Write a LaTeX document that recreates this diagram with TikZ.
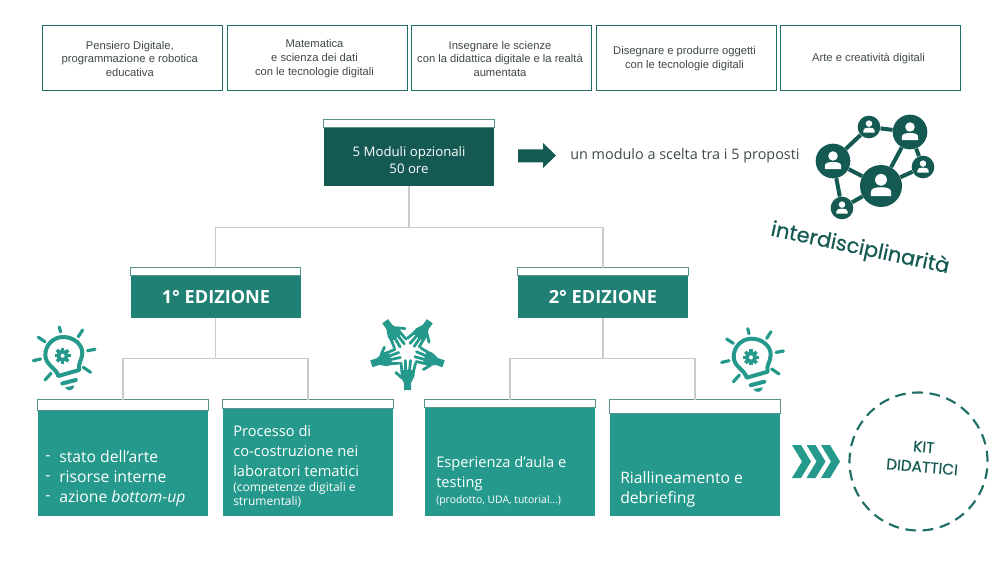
\documentclass[tikz,border=0pt]{standalone}
\usepackage{fontspec}
\setmainfont{Open Sans}
\newfontfamily\arialf{Liberation Sans}
\newfontfamily\handf[FakeBold=0.5]{Poppins}
\usetikzlibrary{calc}
\definecolor{dk}{HTML}{155A52}
\definecolor{md}{HTML}{1F8073}
\definecolor{lt}{HTML}{259A8C}
\definecolor{edge}{HTML}{C9CBCA}
\definecolor{tline}{HTML}{1F6F66}
\definecolor{gtxt}{HTML}{3F4A48}
\tikzset{
  topbox/.style={draw=tline,line width=.75pt,fill=white,minimum width=135pt,minimum height=48.75pt,inner sep=0pt},
  toplabel/.style={inner sep=0pt,font=\arialf\fontsize{8.4}{10.2}\selectfont,text=gtxt,align=center},
  headbox/.style={rectangle,minimum width=127.5pt,inner sep=0pt,fill=#1,draw=none},
  striped/.style={fill=white,draw=tline!75,line width=.6pt},
  link/.style={draw=edge,line width=1.1pt},
  bodytxt/.style={text=white,anchor=west,align=left,inner sep=0pt,font=\fontsize{11}{15}\selectfont},
  bigbody/.style={bodytxt,font=\fontsize{11.8}{15}\selectfont},
  smalltxt/.style={bodytxt,font=\fontsize{#1}{10.5}\selectfont},
  netnode/.style={circle,fill=dk,inner sep=0pt,minimum size=#1},
  netlink/.style={draw=dk,line width=3pt},
  ray/.style={line width=2.4pt,line cap=round}
}
\newcommand{\bulbicon}[2]{%
\begin{scope}[shift={(#1,#2)},lt]
  \foreach \a/\b/\c/\d in {-4/-28/-2.7/-23,19.3/-25/15/-18.3,24.3/-4.3/31.7/-5.7,20/12.3/27.3/17.3,-12.3/18.3/-18.3/25,-30/5.7/-22.7/4,-25/-17.7/-18.3/-13.3}
    {\draw[ray] (\a,\b) -- (\c,\d);}
  \draw[line width=3pt,line join=round] (-5,21) .. controls (-7,13) and (-18,10) .. (-18,0)
     .. controls (-18,-10) and (-10,-18) .. (0,-18)
     .. controls (10,-18) and (19,-11) .. (19,-2)
     .. controls (19,5) and (14,9) .. (16,15) -- cycle;
  \draw[ray,line width=3pt] (-1,28.5) -- (12.5,25);
  \fill (1.5,32.5) -- (11,30.5) .. controls (11,35) and (5,37.5) .. (1.5,32.5) -- cycle;
  \foreach \r in {0,45,...,315}
    {\draw[line width=2.6pt,shift={(-.7,.7)},rotate=\r] (0,-4.5) -- (0,-8);}
  \draw[line width=2.8pt] (-.7,.7) circle[radius=4.2];
\end{scope}}
\newcommand{\handicon}[1]{%
\begin{scope}[shift={(407.5,352)},rotate=#1,lt]
  \fill (-3.6,38) -- (3.6,38) -- (3.6,31) -- (7,24) -- (7.5,18) -- (-7,18) -- (-7,24) -- (-3.6,31) -- cycle;
  \draw[line width=2.1pt,line cap=round] (-5.5,20) -- (-6.5,11);
  \draw[line width=2.1pt,line cap=round] (-1.8,19) -- (-2.2,8.5);
  \draw[line width=2.1pt,line cap=round] (2,19) -- (3,8.5);
  \draw[line width=2.1pt,line cap=round] (5.8,20) -- (8,11.5);
  \draw[line width=2.1pt,line cap=round] (-5.5,26) -- (-11.7,20.5);
\end{scope}}
\newcommand{\person}[2]{%
\begin{scope}[shift={(#1)},scale=#2,white]
  \fill (0,-4) circle[radius=3.8];
  \fill (-6.5,6.5) -- (-6.5,3.8) .. controls (-6.5,1.5) and (-3.5,.8) .. (0,.8) .. controls (3.5,.8) and (6.5,1.5) .. (6.5,3.8) -- (6.5,6.5) -- cycle;
\end{scope}}
\newcommand{\chevron}[1]{%
\fill[lt,shift={(#1,0)}] (792,445) -- (801,445) -- (811,461.5) -- (801,478) -- (792,478) -- (802,461.5) -- cycle;}
\begin{document}
\begin{tikzpicture}[x=.75pt,y=-.75pt]
\useasboundingbox (0,0) rectangle (1000,563);
% top row
\node[topbox] (t1) at (132.5,58) {};
\node[topbox] (t2) at (317,58) {};
\node[topbox] (t3) at (501.5,58) {};
\node[topbox] (t4) at (686.5,58) {};
\node[topbox] (t5) at (870.5,58) {};
\node[toplabel] (t1t) at ($(t1)+(-2.7,.6)$) {Pensiero Digitale,\\programmazione e robotica\\educativa};
\node[toplabel] (t2t) at ($(t2)+(-2.5,.6)$) {Matematica\\e scienza dei dati\\con le tecnologie digitali};
\node[toplabel] (t3t) at ($(t3)+(-1.5,.6)$) {Insegnare le scienze\\con la didattica digitale e la realtà\\aumentata};
\node[toplabel] (t4t) at ($(t4)+(-2,.6)$) {Disegnare e produrre oggetti\\con le tecnologie digitali};
\node[toplabel] (t5t) at ($(t5)+(-2,.6)$) {Arte e creatività digitali};
% main hierarchy boxes
\node[headbox=dk,minimum height=49.5pt] (m) at (409,153) {};
\node[headbox=md,minimum height=37.5pt] (e1) at (215.5,293) {};
\node[headbox=md,minimum height=37.5pt] (e2) at (603,293) {};
\node[headbox=lt,minimum height=87pt] (b1) at (123,458) {};
\node[headbox=lt,minimum height=87pt] (b2) at (308,458) {};
\node[headbox=lt,minimum height=87pt] (b3) at (510,458) {};
\node[headbox=lt,minimum height=87pt] (b4) at (695,458) {};
\foreach \n/\h in {m/8,e1/7.5,e2/7.5,b1/11,b2/9,b3/8,b4/14}
  {\draw[striped] (\n.north west) rectangle ($(\n.north east)+(0,\h)$);}
% connectors
\coordinate (j0) at ($(m.south)+(0,41)$);
\draw[link] (m.south) -- (j0);
\draw[link] (e1.north) |- (j0) -| (e2.north);
\coordinate (j1) at ($(e1.south)+(0,40)$);
\draw[link] (e1.south) -- (j1);
\draw[link] (b1.north) |- (j1) -| (b2.north);
\coordinate (j2) at ($(e2.south)+(0,40)$);
\draw[link] (e2.south) -- (j2);
\draw[link] (b3.north) |- (j2) -| (b4.north);
% labels on boxes
\node[text=white,align=center,inner sep=0pt,font=\fontsize{9.9}{12.8}\selectfont] (mt) at (409,160) {5 Moduli opzionali\\50 ore};
\node[text=white,inner sep=0pt,font=\bfseries\fontsize{13.6}{15}\selectfont] (e1t) at (216,297) {1° EDIZIONE};
\node[text=white,inner sep=0pt,font=\bfseries\fontsize{13.6}{15}\selectfont] (e2t) at (603,297) {2° EDIZIONE};
\node[bigbody] (b1d) at (45,478) {-\\-\\-};
\node[bigbody] (b1t) at (59,478) {stato dell’arte\\risorse interne\\azione \emph{bottom-up}};
\node[bodytxt,anchor=north west] (b2t) at (233,425) {Processo di\\co-costruzione nei\\laboratori tematici};
\node[smalltxt=9] (b2s) at (233,494.5) {(competenze digitali e\\strumentali)};
\node[bodytxt,anchor=north west] (b3t) at (436,456.5) {Esperienza d’aula e\\testing};
\node[smalltxt=7.8] (b3s) at (436,501) {(prodotto, UDA, tutorial…)};
\node[bigbody] (b4t) at (620,489) {Riallineamento e\\debriefing};
% arrow and text
\fill[dk] (518,149.5) -- (543,149.5) -- (543,143) -- (556,155.5) -- (543,168) -- (543,162.5) -- (518,162.5) -- cycle;
\node[anchor=west,inner sep=0pt,text=gtxt,font=\fontsize{10.8}{13}\selectfont] (ch) at (570,155.5) {un modulo a scelta tra i 5 proposti};
% network
\node[netnode=31.5pt] (n1) at (881,186) {};
\node[netnode=26pt] (n2) at (910,132) {};
\node[netnode=17pt] (n3) at (869,127) {};
\node[netnode=26pt] (n4) at (833,161) {};
\node[netnode=17pt] (n5) at (923,167) {};
\node[netnode=17pt] (n6) at (842,208) {};
\foreach \p/\q in {n4/n3,n3/n2,n2/n1,n2/n5,n5/n1,n1/n4,n1/n6,n4/n6}
  {\draw[netlink] (\p) -- (\q);}
\person{881,186}{1.55}
\person{910,132}{1.25}
\person{869,127}{.85}
\person{833,161}{1.25}
\person{923,167}{.85}
\person{842,208}{.85}
\node[rotate=-12,text=dk,inner sep=0pt,font=\handf\fontsize{15.7}{17}\selectfont] (inter) at (860,249) {interdisciplinarità};
% icons
\bulbicon{63.3}{355}
\bulbicon{751.7}{356.7}
\foreach \r in {0,72,144,216,288}{\handicon{\r}}
% chevrons + kit
\chevron{0}\chevron{14.5}\chevron{29}
\node[circle,draw=tline,line width=1.6pt,dash pattern=on 8pt off 5pt,minimum size=103.5pt,inner sep=0pt] (kit) at (918.5,461.5) {};
\node[rotate=-5,text=dk,align=center,inner sep=0pt,font=\handf\fontsize{11.5}{15}\selectfont] (kitt) at (923,457) {KIT\\DIDATTICI};
\end{tikzpicture}
\end{document}
